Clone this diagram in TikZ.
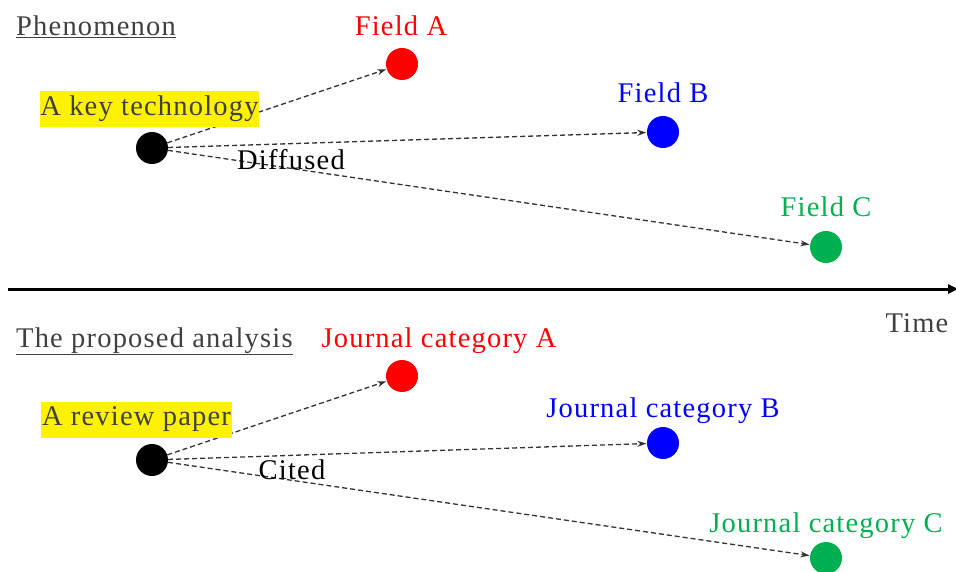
\documentclass[tikz,border=0pt]{standalone}
\usepackage{fontspec}
\setmainfont[LetterSpace=4.2]{Liberation Serif}
\usetikzlibrary{arrows.meta}
\definecolor{myred}{HTML}{FF0000}
\definecolor{myblue}{HTML}{0000FF}
\definecolor{mygreen}{HTML}{00B050}
\definecolor{mygray}{HTML}{404040}
\begin{document}
\begin{tikzpicture}[x=1pt,y=-1pt,
  txt/.style={font=\fontsize{28.5}{32}\selectfont, inner sep=0pt, anchor=base},
  dot/.style={circle, minimum size=32pt, inner sep=0pt, draw=none, fill=#1},
  hl/.style={fill=yellow, inner sep=0pt, minimum height=36pt, text=mygray, font=\fontsize{28.5}{32}\selectfont},
  conn/.style={dash pattern=on 5pt off 3pt, line width=1.3pt, draw=black!80, -{Stealth[length=9pt,width=6pt]}, shorten >=0.5pt},
  axis/.style={line width=3pt, -{Triangle[length=10pt,width=9pt]}}]
\useasboundingbox (0,0) rectangle (956,572);
% ---- top panel ----
\node[txt, anchor=base west, text=mygray] (t1) at (16,36) {\underline{Phenomenon}};
\node[dot=black] (k1) at (152,148) {};
\node[dot=myred] (a1) at (402,64) {};
\node[dot=myblue] (b1) at (663,132) {};
\node[dot=mygreen] (c1) at (826,247) {};
\node[txt, text=myred] (la1) at (401,36) {Field A};
\node[txt, text=myblue] (lb1) at (663,103) {Field B};
\node[txt, text=mygreen] (lc1) at (826,217) {Field C};
\draw[conn] (k1) -- (a1);
\draw[conn] (k1) -- (b1);
\draw[conn] (k1) -- (c1);
\node[hl, minimum width=217pt] (h1) at (149.5,109) {A key technology};
\node[txt] (d1) at (291,170) {Diffused};
% ---- axis ----
\coordinate (ax0) at (8,289);
\coordinate (ax1) at (958,289);
\draw[axis] (ax0) -- (ax1);
\node[txt, text=mygray] (time) at (917,332) {Time};
% ---- bottom panel ----
\node[txt, anchor=base west, text=mygray] (t2) at (16,347) {\underline{The proposed analysis}};
\node[dot=black] (k2) at (152,460) {};
\node[dot=myred] (a2) at (402,376) {};
\node[dot=myblue] (b2) at (663,443) {};
\node[dot=mygreen] (c2) at (826,558) {};
\node[txt, text=myred] (la2) at (439,347) {Journal category A};
\node[txt, text=myblue] (lb2) at (663,417) {Journal category B};
\node[txt, text=mygreen] (lc2) at (826,532) {Journal category C};
\draw[conn] (k2) -- (a2);
\draw[conn] (k2) -- (b2);
\draw[conn] (k2) -- (c2);
\node[hl, minimum width=191pt] (h2) at (136.5,419.5) {A review paper};
\node[txt] (d2) at (292,479) {Cited};
\end{tikzpicture}
\end{document}
